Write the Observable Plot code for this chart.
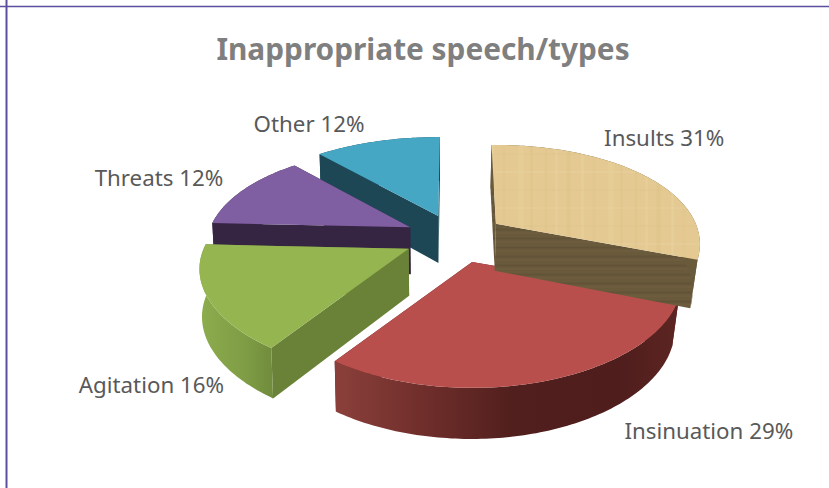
<!DOCTYPE html>
<html>
<head>
<meta charset="utf-8">
<script src="https://cdn.jsdelivr.net/npm/d3@7"></script>
<script src="https://cdn.jsdelivr.net/npm/@observablehq/plot@0.6"></script>
<style>
html,body{margin:0;padding:0;background:#fff;overflow:hidden}
svg{display:block}
</style>
</head>
<body>
<div id="chart"></div>
<script>
const chartTitle = "Inappropriate speech/types";
const categories = ["Insults", "Insinuation", "Agitation", "Threats", "Other"];
const percents = [31, 29, 16, 12, 12];

// Styling, keyed by category
const topFills = {Insults:"url(#wood)", Insinuation:"#b94f4c", Agitation:"#95b551", Threats:"#7f5fa1", Other:"#46a7c5"};
const wallFills = {Insults:"url(#woodSide)", Insinuation:"#5a2321", Agitation:"#6a8238", Threats:"#362443", Other:"#1d4755"};
const rimFills = {Insults:"#6a5a3c", Insinuation:"url(#rimRed)", Agitation:"url(#rimGreen)", Threats:"#362443", Other:"#1d4755"};
const labelOffsets = {Insults:[23,-35], Insinuation:[158.5,52], Agitation:[-56,89], Threats:[-85,-11], Other:[-68.5,-16]};
const widthScale = {Insults:0.975, Insinuation:1, Agitation:1, Threats:0.975, Other:1};
const drawOrder = ["Other", "Threats", "Agitation", "Insinuation", "Insults"];

// Perspective view of the exploded pie
const view = {cx:455, cy:237, rx:205, ry:97, perspX:0.2, perspY:0.23, explode:0.25, depth:47, shrinkRight:0.97, shrinkLeft:0.99};
// Small angular correction of the tilted camera, in degrees around the pie
const camera = d3.scaleLinear().domain([0,120,216,274,317,360]).range([-1.5,-1.6,-2,-1,1.5,0.5]);
const deg = Math.PI / 180;
function project(u, v) {
  return {x: view.rx * u / (1 + view.perspX * v), y: -view.ry * v / (1 + view.perspY * v)};
}
function lower(p, v) {
  const k = p.x > view.cx ? view.shrinkRight : view.shrinkLeft;
  return {x: view.cx + (p.x - view.cx) * k, y: p.y + view.depth / (1 + 0.08 * v)};
}
const total = d3.sum(percents);
let cum = 0;
const slices = categories.map((name, i) => {
  const s0 = cum / total * 360;
  cum += percents[i];
  const s1 = cum / total * 360;
  const warp = (a) => a + camera(a);
  const m = (warp(s0) + warp(s1)) / 2 * deg;
  const off = project(view.explode * Math.sin(m), view.explode * Math.cos(m));
  const place = (u, v) => {
    const p = project(u * widthScale[name], v);
    return {x: view.cx + off.x + p.x, y: view.cy + off.y + p.y};
  };
  const angles = d3.range(s0, s1, 1).concat([s1]).map(warp);
  const top = angles.map((a) => place(Math.sin(a * deg), Math.cos(a * deg)));
  const bot = angles.map((a, k) => lower(top[k], Math.cos(a * deg)));
  const apexTop = place(0, 0);
  const apexBot = lower(apexTop, 0);
  const mid = place(Math.sin(m), Math.cos(m));
  return {name, value: percents[i], top, bot, apexTop, apexBot, mid};
});

function face(points, fill) {
  return Plot.line([...points, points[0]], {x:"x", y:"y", fill, stroke:"none", curve:"linear"});
}
const defs = () => {
  const d = d3.create("svg:defs");
  const grad = (id, x1, x2, stops) => {
    const g = d.append("linearGradient").attr("id", id).attr("gradientUnits", "userSpaceOnUse")
      .attr("x1", x1).attr("x2", x2).attr("y1", 0).attr("y2", 0);
    stops.forEach(([o, c]) => g.append("stop").attr("offset", o).attr("stop-color", c));
  };
  grad("rimRed", 338, 685, [[0,"#8a3f3a"],[0.25,"#6f2e2b"],[0.5,"#511f1d"],[0.8,"#4e1d1c"],[1,"#5e2623"]]);
  grad("rimGreen", 198, 275, [[0,"#8dad4e"],[0.6,"#7f9d45"],[1,"#6f8a3c"]]);
  const wood = d.append("pattern").attr("id", "wood").attr("patternUnits", "userSpaceOnUse").attr("width", 90).attr("height", 36);
  wood.append("rect").attr("width", 90).attr("height", 36).attr("fill", "#e4ca92");
  [[4,3,"#dcc084"],[15,2,"#ead3a0"],[26,4,"#d9bd81"],[41,2,"#ecd6a6"],[52,3,"#dfc48a"],[68,5,"#e9d19c"],[80,2,"#d8bc80"]]
    .forEach(([x, w, c]) => wood.append("rect").attr("x", x).attr("width", w).attr("height", 36).attr("fill", c).attr("opacity", 0.4));
  [[9,"#d9be84"],[27,"#ecd7a8"]].forEach(([y, c]) => wood.append("rect").attr("y", y).attr("width", 90).attr("height", 1).attr("fill", c).attr("opacity", 0.4));
  const side = d.append("pattern").attr("id", "woodSide").attr("patternUnits", "userSpaceOnUse").attr("width", 40).attr("height", 9);
  side.append("rect").attr("width", 40).attr("height", 9).attr("fill", "#6a5a3c");
  side.append("rect").attr("y", 3).attr("width", 40).attr("height", 2).attr("fill", "#625338");
  side.append("rect").attr("y", 7).attr("width", 40).attr("height", 1).attr("fill", "#70603f");
  return d.node();
};

const marks = [defs,
  Plot.ruleY([6], {stroke:"#5c4f9f", strokeWidth:1.4}),
  Plot.ruleX([6], {stroke:"#5c4f9f", strokeWidth:2})
];
for (const name of drawOrder) {
  const s = slices.find((d) => d.name === name);
  const n = s.top.length - 1;
  marks.push(face([s.apexTop, s.top[0], s.bot[0], s.apexBot], wallFills[name]));
  marks.push(face([s.apexTop, s.top[n], s.bot[n], s.apexBot], wallFills[name]));
  marks.push(face([...s.top, ...s.bot.slice().reverse()], rimFills[name]));
  marks.push(face([s.apexTop, ...s.top], topFills[name]));
}
for (const s of slices) {
  const [dx, dy] = labelOffsets[s.name];
  marks.push(Plot.text([s], {x:(d)=>d.mid.x, y:(d)=>d.mid.y, text:(d)=>`${d.name} ${d.value}%`,
    dx, dy, fontSize:22.3, fill:"#595959", textAnchor:"middle", lineAnchor:"middle",
    fontFamily:"'Noto Sans', sans-serif"}));
}
marks.push(Plot.text([chartTitle], {frameAnchor:"top", dx:8, dy:38, fontSize:29.8, fontWeight:700, fill:"#7f7f7f",
  lineAnchor:"top", fontFamily:"'Noto Sans', sans-serif"}));

const plot = Plot.plot({
  width:829, height:488, margin:0,
  x:{domain:[0,829], range:[0,829], axis:null},
  y:{domain:[0,488], range:[0,488], axis:null},
  style:{background:"#fff"},
  marks
});
document.getElementById("chart").append(plot);
</script>
</body>
</html>
